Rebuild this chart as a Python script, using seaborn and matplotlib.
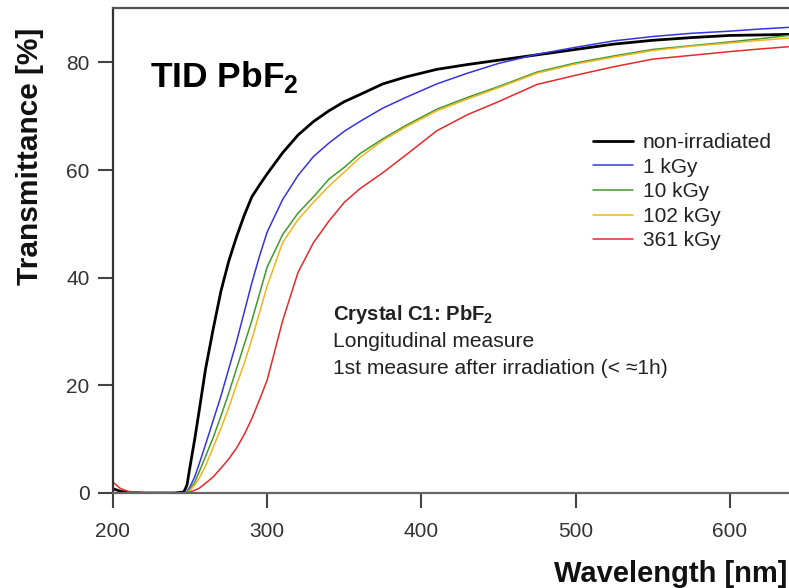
import numpy as np
import pandas as pd
import matplotlib
matplotlib.use("Agg")
import matplotlib.pyplot as plt
import seaborn as sns

# ---------------- data ----------------
wavelength = [200, 205, 210, 220, 230, 240, 246, 248, 250, 253, 256, 260, 265, 270, 275,
              280, 285, 290, 295, 300, 310, 320, 330, 340, 350, 360, 375, 390, 410, 430,
              450, 475, 500, 525, 550, 575, 600, 620, 638]

t_nonirr = [0.8, 0.3, 0.1, 0, 0, 0, 0.2, 1.5, 5, 10, 15.5, 23, 30.5, 37.5, 43,
            47.5, 51.5, 55, 57.2, 59.3, 63.2, 66.5, 69, 71, 72.7, 74, 76, 77.3, 78.7, 79.6,
            80.4, 81.4, 82.4, 83.4, 84.1, 84.6, 85.0, 85.1, 85.2]
t_1kGy = [0, 0, 0, 0, 0, 0, 0, 0.3, 1.2, 3, 5.5, 9, 13.5, 18, 23,
          28, 33.5, 39, 44, 48.5, 54.5, 59, 62.5, 65, 67.2, 69, 71.5, 73.5, 76, 78,
          79.8, 81.5, 82.8, 84.0, 84.8, 85.4, 85.8, 86.2, 86.5]
t_10kGy = [0, 0, 0, 0, 0, 0, 0, 0.2, 0.8, 2, 4, 6.8, 10.3, 14.3, 18.5,
           23, 27.5, 32, 37, 42, 48, 52, 55, 58.3, 60.5, 63, 65.8, 68.3, 71.3, 73.5,
           75.5, 78.2, 79.9, 81.2, 82.4, 83.1, 83.8, 84.4, 85.0]
t_102kGy = [0, 0, 0, 0, 0, 0, 0, 0.1, 0.5, 1.5, 2.8, 5, 8.5, 12, 15.8,
            20, 24, 28.5, 33.5, 38.5, 46.5, 50.8, 54, 57, 59.6, 62.3, 65.5, 68, 71, 73.2,
            75.3, 78, 79.7, 81.0, 82.2, 83.0, 83.6, 84.1, 84.5]
t_361kGy = [2.0, 0.8, 0.3, 0.05, 0, 0, 0, 0.1, 0.2, 0.5, 0.9, 1.8, 3, 4.6, 6.3,
            8.3, 10.8, 13.8, 17.3, 21, 32, 41, 46.5, 50.5, 54, 56.5, 59.5, 62.8, 67.3, 70.3,
            72.7, 75.9, 77.6, 79.2, 80.6, 81.3, 82.0, 82.5, 82.9]

series_names = ["non-irradiated", "1 kGy", "10 kGy", "102 kGy", "361 kGy"]
series_values = [t_nonirr, t_1kGy, t_10kGy, t_102kGy, t_361kGy]
series_colors = ["#000000", "#3535e0", "#3f9a2c", "#f0b41e", "#e42a2a"]
series_widths = [2.0, 1.1, 1.1, 1.1, 1.1]

x_ticks = [200, 300, 400, 500, 600]
y_ticks = [0, 20, 40, 60, 80]

df = pd.DataFrame({
    "Wavelength": np.tile(wavelength, len(series_names)),
    "Transmittance": np.concatenate(series_values),
    "Series": np.repeat(series_names, len(wavelength)),
})

# ---------------- style ----------------
sns.set_theme(style="white")
plt.rcParams["font.family"] = ["Liberation Sans", "DejaVu Sans"]
plt.rcParams["mathtext.fontset"] = "custom"
plt.rcParams["mathtext.rm"] = "Liberation Sans"
plt.rcParams["mathtext.bf"] = "Liberation Sans:bold"

W, H = 789, 588
fig = plt.figure(figsize=(W / 100, H / 100), dpi=100)
ax = fig.add_axes([113 / W, 1 - 493 / H, 1 - 113 / W, (493 - 8) / H])

for name, col, lw in zip(series_names, series_colors, series_widths):
    sns.lineplot(data=df[df["Series"] == name], x="Wavelength", y="Transmittance",
                 color=col, lw=lw, label=name, ax=ax, estimator=None, sort=False)

ax.set_xlim(200, 638.4)
ax.set_ylim(0, 90.1)
ax.set_xticks(x_ticks)
ax.set_yticks(y_ticks)
ax.set_xlabel("")
ax.set_ylabel("")

ax.spines["right"].set_visible(False)
ax.spines["top"].set_color("#555555")
ax.spines["left"].set_color("#333333")
ax.spines["bottom"].set_color("#666666")
for s in ["top", "left", "bottom"]:
    ax.spines[s].set_linewidth(1.6)

ax.tick_params(axis="both", direction="out", length=11, width=1.5, color="#444444",
               labelsize=15, labelcolor="#333333")
ax.tick_params(axis="x", pad=10)
ax.tick_params(axis="y", pad=6)
ax.tick_params(left=True, bottom=True)

leg = ax.legend(loc="upper left", bbox_to_anchor=(593 / W, 1 - 133 / H),
                bbox_transform=fig.transFigure, frameon=False, fontsize=15,
                handlelength=1.9, handletextpad=0.5, labelspacing=0.27,
                borderpad=0, borderaxespad=0)
for txt in leg.get_texts():
    txt.set_color("#222222")

# ---------------- texts ----------------
fig.text(30 / W, 1 - 156 / H, "Transmittance [%]", rotation=90, ha="center", va="center",
         fontsize=21.5, fontweight="bold", color="#111111")
fig.text(0.998, 1 - 582 / H, "Wavelength [nm]", ha="right", va="baseline",
         fontsize=21, fontweight="bold", color="#111111")
fig.text(150 / W, 1 - 87 / H, r"TID PbF$_\mathbf{2}$", ha="left", va="baseline",
         fontsize=25.5, fontweight="bold", color="#000000")
fig.text(333 / W, 1 - 320 / H, r"Crystal C1: PbF$_\mathbf{2}$", ha="left", va="baseline",
         fontsize=14.6, fontweight="bold", color="#222222")
fig.text(333 / W, 1 - 347 / H, "Longitudinal measure", ha="left", va="baseline",
         fontsize=15.1, color="#222222")
fig.text(333 / W, 1 - 374 / H, "1st measure after irradiation (< \u22481h)", ha="left",
         va="baseline", fontsize=15.1, color="#222222")

fig.savefig("out.png", dpi=100)
